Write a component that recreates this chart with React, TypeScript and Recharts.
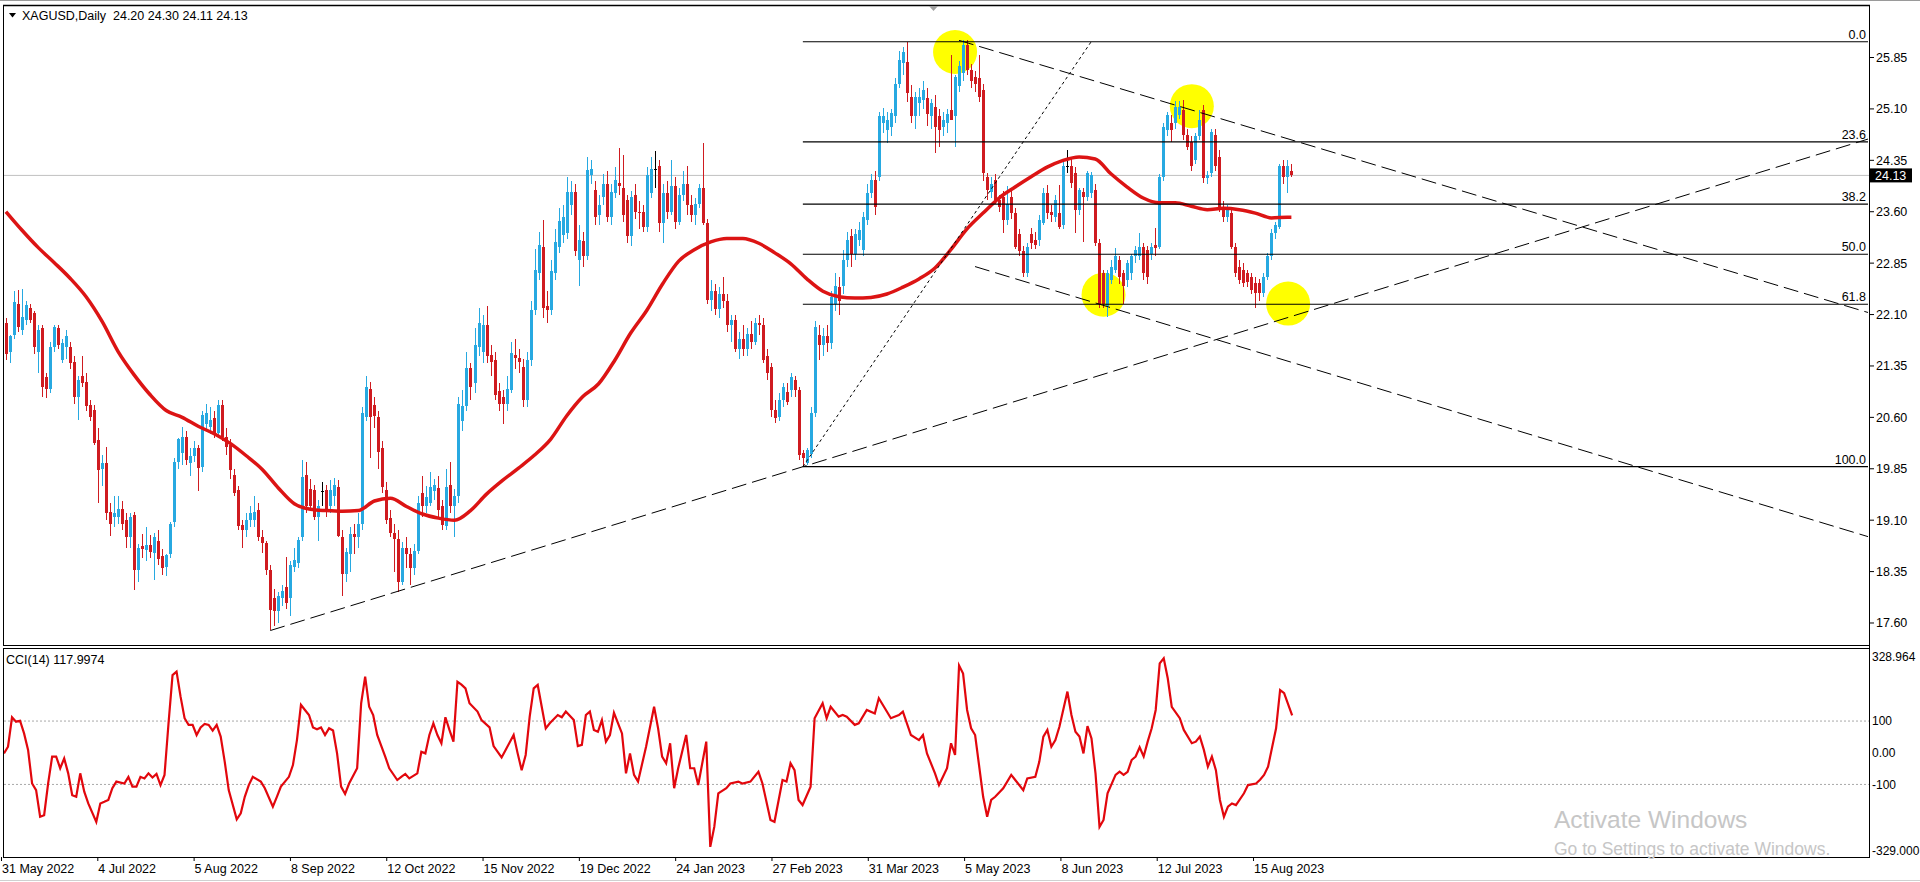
import React from 'react';
import { ComposedChart, Bar, Line, XAxis, YAxis, ReferenceLine, ReferenceDot } from 'recharts';

const FONT = "'Liberation Sans', Arial, sans-serif";
const BULL = '#27a9e1';
const BEAR = '#cf1b20';
const MA_COLOR = '#dc1414';
const CCI_COLOR = '#e2070d';
const TOTAL_BARS = 466;

// XAGUSD daily bars [open, high, low, close], bar 0 = 31 May 2022
const ohlc: number[][] = [
  [21.97, 22.05, 21.43, 21.52], [21.56, 21.80, 21.40, 21.78], [21.80, 22.45, 21.75, 22.28], [22.26, 22.46, 21.85, 21.92], [21.88, 22.48, 21.80, 22.07],
  [22.02, 22.30, 21.95, 22.24], [22.19, 22.25, 21.98, 22.02], [22.12, 22.15, 21.53, 21.63], [21.55, 21.95, 21.25, 21.88], [21.90, 21.95, 20.90, 21.05],
  [21.19, 21.25, 20.88, 21.02], [21.02, 21.70, 20.95, 21.63], [21.63, 21.95, 21.55, 21.92], [21.90, 21.95, 21.60, 21.66], [21.44, 21.75, 21.40, 21.68],
  [21.62, 21.88, 21.45, 21.78], [21.63, 21.70, 21.30, 21.39], [21.41, 21.50, 20.80, 20.90], [20.90, 21.20, 20.56, 21.15], [21.20, 21.49, 21.05, 21.10],
  [21.12, 21.25, 20.70, 20.76], [20.78, 20.85, 20.55, 20.61], [20.71, 20.78, 20.20, 20.22], [20.27, 20.45, 19.35, 19.83], [19.85, 20.05, 19.60, 19.93],
  [19.93, 20.17, 19.10, 19.20], [19.22, 19.35, 18.87, 19.05], [19.15, 19.45, 19.00, 19.20], [19.15, 19.46, 19.05, 19.27], [19.27, 19.38, 18.95, 19.05],
  [19.10, 19.20, 18.70, 18.86], [18.86, 19.20, 18.70, 19.15], [19.18, 19.22, 18.08, 18.37], [18.37, 18.75, 18.20, 18.69], [18.72, 18.90, 18.55, 18.68],
  [18.67, 19.00, 18.50, 18.74], [18.74, 18.88, 18.55, 18.64], [18.62, 18.92, 18.23, 18.86], [18.79, 18.95, 18.45, 18.54], [18.58, 18.68, 18.30, 18.40],
  [18.42, 18.60, 18.28, 18.59], [18.61, 19.08, 18.55, 19.05], [19.08, 20.00, 19.00, 19.95], [19.95, 20.30, 19.85, 20.29], [20.08, 20.46, 19.90, 20.32],
  [20.32, 20.40, 19.90, 19.98], [19.93, 20.15, 19.75, 20.03], [20.03, 20.25, 19.95, 20.15], [20.15, 20.20, 19.52, 19.86], [19.88, 20.70, 19.80, 20.63],
  [20.51, 20.80, 20.40, 20.66], [20.46, 20.75, 20.35, 20.56], [20.59, 20.70, 20.30, 20.37], [20.37, 20.85, 20.30, 20.78], [20.78, 20.86, 20.25, 20.32],
  [20.32, 20.45, 20.05, 20.17], [20.20, 20.28, 19.70, 19.83], [19.76, 19.85, 19.45, 19.49], [19.54, 19.60, 18.95, 19.01], [19.03, 19.10, 18.70, 18.96],
  [18.96, 19.20, 18.85, 19.10], [19.10, 19.30, 19.00, 19.20], [19.10, 19.45, 19.00, 19.22], [19.25, 19.35, 18.80, 18.86], [18.86, 18.95, 18.62, 18.76],
  [18.76, 18.80, 18.30, 18.37], [18.37, 18.45, 17.50, 17.79], [17.96, 18.10, 17.55, 17.77], [17.77, 18.05, 17.60, 17.99], [17.96, 18.15, 17.85, 18.07],
  [18.13, 18.57, 17.80, 17.89], [17.96, 18.50, 17.70, 18.45], [18.42, 18.70, 18.35, 18.52], [18.47, 18.85, 18.40, 18.81], [18.86, 19.98, 18.80, 19.73],
  [19.76, 19.95, 19.20, 19.30], [19.55, 19.70, 19.28, 19.30], [19.54, 19.62, 19.10, 19.15], [19.15, 19.40, 18.80, 19.30], [19.52, 19.65, 19.30, 19.52],
  [19.54, 19.62, 19.15, 19.22], [19.30, 19.68, 19.20, 19.54], [19.45, 19.72, 19.30, 19.61], [19.58, 19.68, 18.85, 18.87], [18.85, 18.95, 18.00, 18.32],
  [18.32, 18.70, 18.20, 18.64], [18.60, 19.00, 18.35, 18.90], [18.90, 19.05, 18.60, 18.85], [18.85, 19.20, 18.70, 19.05], [19.05, 20.75, 18.95, 20.66],
  [20.61, 21.20, 20.55, 21.05], [21.02, 21.12, 20.00, 20.61], [20.78, 20.90, 20.45, 20.62], [20.61, 20.70, 19.85, 20.10], [20.15, 20.25, 19.50, 19.59],
  [19.54, 19.65, 19.05, 19.10], [19.13, 19.25, 18.85, 18.91], [18.91, 19.05, 18.35, 18.82], [18.82, 18.95, 18.05, 18.20], [18.20, 18.78, 18.15, 18.70],
  [18.70, 18.85, 18.40, 18.60], [18.60, 18.70, 18.15, 18.40], [18.40, 18.75, 18.30, 18.65], [18.65, 19.45, 18.60, 19.35], [19.50, 19.75, 19.15, 19.30],
  [19.30, 19.60, 19.20, 19.44], [19.35, 19.80, 19.30, 19.59], [19.52, 19.70, 19.40, 19.61], [19.57, 19.75, 19.15, 19.25], [19.30, 19.40, 18.95, 19.03],
  [19.01, 19.85, 18.95, 19.59], [19.61, 19.95, 19.20, 19.30], [19.30, 19.55, 18.85, 19.45], [19.45, 20.90, 19.35, 20.80], [20.55, 21.00, 20.40, 20.76],
  [20.76, 21.55, 20.70, 21.32], [21.32, 21.40, 20.85, 21.05], [21.10, 21.90, 20.95, 21.66], [21.63, 22.20, 21.50, 21.97], [21.55, 22.10, 21.40, 21.95],
  [21.95, 22.23, 21.40, 21.49], [21.51, 21.65, 21.20, 21.41], [21.44, 21.55, 20.85, 20.93], [20.98, 21.10, 20.70, 20.80], [20.90, 21.00, 20.50, 20.80],
  [20.80, 21.20, 20.70, 21.02], [21.00, 21.70, 20.95, 21.54], [21.51, 21.75, 21.30, 21.47], [21.47, 21.60, 21.25, 21.41], [21.34, 21.45, 20.75, 20.85],
  [20.85, 21.55, 20.75, 21.44], [21.44, 22.30, 21.35, 22.17], [22.17, 23.05, 22.10, 22.75], [22.70, 23.30, 22.60, 23.11], [23.09, 23.48, 22.05, 22.19],
  [22.22, 22.45, 21.97, 22.17], [22.17, 22.90, 22.10, 22.73], [22.70, 23.35, 22.60, 23.16], [23.09, 23.65, 23.00, 23.46], [23.26, 23.70, 23.15, 23.53],
  [23.29, 24.11, 23.20, 23.89], [23.70, 24.05, 23.55, 23.89], [23.89, 24.00, 22.95, 23.02], [22.90, 23.40, 22.51, 23.19], [23.17, 23.30, 22.80, 22.95],
  [22.95, 24.40, 22.90, 24.21], [24.13, 24.36, 24.00, 24.23], [23.92, 24.05, 23.40, 23.53], [23.55, 23.85, 23.40, 23.70], [23.82, 24.15, 23.70, 24.01],
  [24.01, 24.20, 23.45, 23.53], [23.53, 24.00, 23.40, 23.89], [23.87, 24.25, 23.80, 24.06], [24.02, 24.53, 23.85, 23.97], [23.94, 24.43, 23.45, 23.55],
  [23.77, 23.85, 23.15, 23.24], [23.24, 23.90, 23.10, 23.82], [23.84, 24.00, 23.50, 23.60], [23.60, 23.75, 23.35, 23.58], [23.60, 23.70, 23.30, 23.38],
  [23.38, 24.25, 23.30, 24.14], [23.87, 24.40, 23.80, 24.23], [24.23, 24.48, 23.95, 24.23], [24.26, 24.35, 23.30, 23.43], [23.43, 24.00, 23.14, 23.87],
  [23.87, 24.05, 23.50, 23.60], [23.60, 24.36, 23.55, 23.97], [23.97, 24.10, 23.35, 23.45], [23.45, 23.95, 23.40, 23.85], [23.85, 24.20, 23.75, 24.00],
  [24.00, 24.26, 23.55, 23.70], [23.70, 23.85, 23.45, 23.55], [23.55, 23.80, 23.40, 23.72], [23.72, 24.00, 23.65, 23.94], [23.94, 24.60, 23.40, 23.43],
  [23.43, 23.50, 22.25, 22.31], [22.31, 22.60, 22.15, 22.45], [22.45, 22.55, 22.10, 22.18], [22.18, 22.50, 22.05, 22.40], [22.40, 22.65, 22.20, 22.30],
  [22.30, 22.40, 21.85, 21.95], [21.95, 22.10, 21.70, 22.02], [22.02, 22.10, 21.55, 21.60], [21.60, 21.85, 21.45, 21.75], [21.75, 21.95, 21.50, 21.60],
  [21.60, 21.90, 21.50, 21.82], [21.82, 22.00, 21.60, 21.70], [21.70, 22.05, 21.65, 21.98], [21.98, 22.10, 21.80, 21.95], [21.95, 22.05, 21.40, 21.44],
  [21.49, 21.60, 21.15, 21.24], [21.34, 21.40, 20.60, 20.71], [20.71, 20.85, 20.52, 20.59], [20.61, 20.95, 20.55, 20.85], [20.85, 21.10, 20.75, 21.05],
  [20.97, 21.10, 20.78, 20.83], [21.00, 21.25, 20.90, 21.19], [21.14, 21.20, 20.90, 21.00], [21.00, 21.05, 19.98, 20.05], [20.08, 20.12, 19.88, 20.00],
  [19.93, 20.15, 19.90, 20.12], [20.07, 20.75, 20.00, 20.66], [20.66, 22.00, 20.60, 21.92], [21.80, 21.95, 21.44, 21.66], [21.66, 21.90, 21.50, 21.78],
  [21.78, 21.95, 21.55, 21.68], [21.68, 22.45, 21.60, 22.36], [22.26, 22.70, 22.15, 22.51], [22.50, 22.65, 22.10, 22.30], [22.51, 23.04, 22.40, 22.90],
  [22.90, 23.30, 22.80, 23.19], [23.24, 23.35, 22.80, 22.99], [22.99, 23.35, 22.90, 23.28], [23.19, 23.45, 23.10, 23.33], [23.04, 23.60, 22.95, 23.53],
  [23.48, 24.00, 23.40, 23.87], [23.87, 24.15, 23.80, 24.06], [24.06, 24.20, 23.55, 23.67], [24.11, 25.05, 24.05, 24.99], [24.89, 25.11, 24.75, 24.99],
  [24.79, 25.05, 24.60, 24.94], [24.84, 25.10, 24.70, 25.04], [24.99, 25.55, 24.90, 25.47], [25.47, 25.95, 25.40, 25.81], [25.77, 26.00, 25.60, 25.93],
  [25.79, 26.08, 25.20, 25.33], [25.28, 25.45, 24.90, 24.99], [24.99, 25.35, 24.80, 25.28], [25.18, 25.40, 25.00, 25.28], [25.23, 25.50, 25.10, 25.38],
  [25.26, 25.40, 24.85, 25.03], [24.99, 25.25, 24.80, 25.18], [25.13, 25.30, 24.45, 24.84], [24.99, 25.10, 24.55, 24.79], [24.84, 25.05, 24.70, 24.94],
  [24.89, 25.10, 24.75, 25.03], [25.08, 25.89, 24.95, 24.94], [24.99, 25.60, 24.55, 25.57], [25.43, 25.80, 25.35, 25.72], [25.62, 26.10, 25.50, 26.03],
  [26.03, 26.10, 25.60, 25.67], [25.67, 25.75, 25.40, 25.50], [25.57, 25.65, 25.35, 25.47], [25.55, 25.89, 25.20, 25.28], [25.38, 25.47, 24.05, 24.16],
  [24.11, 24.16, 23.77, 23.92], [23.89, 24.10, 23.80, 24.01], [24.06, 24.15, 23.72, 23.77], [23.77, 23.85, 23.60, 23.67], [23.82, 23.90, 23.29, 23.48],
  [23.48, 23.97, 23.40, 23.72], [23.82, 23.90, 23.50, 23.58], [23.58, 23.65, 23.05, 23.09], [23.28, 23.35, 22.95, 23.02], [23.02, 23.10, 22.65, 22.70],
  [22.70, 23.15, 22.65, 23.09], [23.28, 23.36, 23.05, 23.14], [23.19, 23.30, 23.05, 23.12], [23.19, 23.55, 23.10, 23.48], [23.43, 23.95, 23.40, 23.87],
  [23.87, 23.99, 23.50, 23.58], [23.60, 23.70, 23.45, 23.55], [23.53, 23.85, 23.45, 23.77], [23.58, 23.99, 23.35, 23.38], [23.41, 24.35, 23.35, 24.26],
  [24.26, 24.50, 24.16, 24.26], [24.26, 24.40, 23.95, 24.02], [24.16, 24.25, 23.29, 23.63], [23.63, 23.95, 23.55, 23.92], [23.89, 23.95, 23.16, 23.82],
  [23.82, 24.20, 23.75, 24.16], [23.87, 24.18, 23.80, 24.14], [23.92, 24.00, 23.10, 23.14], [23.14, 23.20, 22.20, 22.26], [22.70, 22.75, 22.20, 22.26],
  [22.22, 22.75, 22.07, 22.70], [22.61, 22.90, 22.55, 22.80], [22.75, 23.07, 22.70, 22.95], [22.90, 22.95, 22.55, 22.65], [22.70, 22.75, 22.26, 22.51],
  [22.61, 22.90, 22.50, 22.85], [22.70, 22.98, 22.60, 22.95], [22.95, 23.10, 22.85, 23.04], [22.95, 23.29, 22.90, 23.09], [23.09, 23.15, 22.60, 22.70],
  [23.04, 23.10, 22.55, 22.65], [22.99, 23.15, 22.90, 23.09], [23.11, 23.36, 22.95, 23.07], [23.09, 24.15, 23.05, 24.11], [24.11, 24.90, 24.05, 24.84],
  [24.79, 25.05, 24.70, 25.01], [24.89, 25.01, 24.62, 24.79], [24.89, 25.21, 24.80, 25.13], [25.01, 25.21, 24.95, 25.13], [25.08, 25.23, 24.65, 24.72],
  [24.72, 24.80, 24.50, 24.55], [24.62, 24.70, 24.20, 24.26], [24.36, 24.75, 24.30, 24.70], [24.70, 25.08, 24.65, 24.94], [25.08, 25.15, 24.02, 24.09],
  [24.09, 24.20, 24.00, 24.14], [24.16, 24.80, 24.10, 24.77], [24.72, 24.80, 24.20, 24.26], [24.40, 24.50, 23.60, 23.63], [23.67, 23.75, 23.45, 23.53],
  [23.53, 23.70, 23.45, 23.65], [23.58, 23.65, 23.05, 23.09], [23.09, 23.15, 22.65, 22.70], [22.80, 22.90, 22.55, 22.61], [22.75, 22.85, 22.50, 22.56],
  [22.70, 22.75, 22.50, 22.58], [22.65, 22.70, 22.40, 22.46], [22.56, 22.65, 22.19, 22.41], [22.56, 22.62, 22.30, 22.41], [22.41, 22.70, 22.35, 22.65],
  [22.65, 23.00, 22.60, 22.95], [22.95, 23.35, 22.90, 23.29], [23.29, 23.45, 23.20, 23.41], [23.38, 24.30, 23.35, 24.26], [24.26, 24.36, 24.00, 24.11],
  [24.11, 24.36, 23.87, 24.26], [24.20, 24.30, 24.11, 24.13],
];

// moving average readings [bar, value]
const maPoints: number[][] = [
  [0, 23.60], [4, 23.33], [8, 23.08], [12, 22.86], [16, 22.63], [20, 22.36], [24, 22.00], [28, 21.56], [32, 21.22], [36, 20.93],
  [40, 20.70], [44, 20.60], [48, 20.47], [52, 20.36], [56, 20.22], [60, 20.04], [64, 19.84], [68, 19.57], [72, 19.34], [76, 19.26],
  [80, 19.24], [84, 19.23], [88, 19.24], [92, 19.38], [96, 19.42], [100, 19.30], [104, 19.19], [108, 19.13], [112, 19.10], [116, 19.24],
  [120, 19.48], [124, 19.68], [128, 19.86], [132, 20.05], [136, 20.28], [140, 20.62], [144, 20.90], [148, 21.09], [152, 21.43], [156, 21.83],
  [160, 22.16], [164, 22.55], [168, 22.88], [172, 23.05], [176, 23.16], [180, 23.21], [184, 23.21], [188, 23.14], [192, 23.00], [196, 22.84],
  [200, 22.62], [204, 22.44], [208, 22.36], [212, 22.34], [216, 22.35], [220, 22.40], [224, 22.50], [228, 22.62], [232, 22.78], [236, 23.05],
  [240, 23.35], [244, 23.58], [248, 23.80], [252, 23.96], [256, 24.11], [260, 24.25], [264, 24.35], [268, 24.40], [272, 24.37], [276, 24.15],
  [280, 23.96], [284, 23.80], [288, 23.73], [292, 23.73], [296, 23.68], [300, 23.63], [304, 23.65], [308, 23.63], [312, 23.58], [316, 23.51],
  [320, 23.52], [321, 23.52],
];

// CCI(14) readings [bar, value]
const cciPoints: number[][] = [
  [0, -2], [1, 19], [2, 112], [3, 98], [4, 101], [5, 61], [6, 9], [7, -97], [8, -118], [9, -202], [10, -197], [11, -97], [12, -12], [13, -12],
  [14, -49], [15, -18], [16, -65], [17, -134], [18, -139], [19, -65], [20, -123], [21, -160], [23, -218], [24, -160], [25, -155], [26, -149],
  [27, -112], [28, -91], [30, -97], [31, -76], [32, -107], [33, -107], [34, -76], [35, -81], [36, -65], [37, -78], [38, -67], [39, -102],
  [40, -70], [41, 93], [42, 245], [43, 256], [44, 177], [45, 109], [46, 88], [47, 88], [48, 56], [49, 80], [50, 91], [51, 88], [52, 70],
  [53, 88], [54, 51], [55, -28], [56, -118], [58, -210], [59, -191], [60, -139], [61, -102], [62, -76], [64, -91], [65, -112], [67, -170],
  [68, -139], [69, -107], [71, -76], [72, -39], [73, 40], [74, 151], [75, 135], [76, 119], [77, 80], [78, 74], [79, 80], [80, 56], [81, 77],
  [82, 70], [83, -2], [84, -107], [85, -130], [86, -97], [88, -49], [89, 156], [90, 240], [91, 145], [92, 119], [93, 56], [95, -12], [96, -49],
  [98, -86], [99, -76], [100, -67], [101, -81], [103, -65], [104, 3], [105, -2], [106, 56], [107, 93], [108, 56], [109, 30], [110, 112],
  [111, 72], [112, 35], [113, 224], [114, 215], [115, 203], [116, 156], [118, 130], [119, 103], [121, 80], [122, 21], [124, -15], [125, 9],
  [127, 56], [128, -2], [129, -55], [130, -7], [131, 114], [132, 203], [133, 214], [134, 145], [135, 77], [136, 93], [138, 119], [139, 112],
  [140, 130], [142, 103], [143, 21], [144, 25], [145, 119], [146, 130], [147, 72], [148, 66], [149, 103], [150, 35], [151, 56], [152, 126],
  [154, 61], [155, -65], [156, -2], [157, -70], [158, -91], [160, 19], [162, 145], [163, 77], [164, -12], [165, -33], [166, 30], [167, -112],
  [168, -49], [170, 56], [171, -49], [172, -49], [173, -102], [175, 35], [176, -297], [177, -234], [178, -128], [180, -112], [181, -97],
  [183, -91], [184, -97], [186, -91], [188, -60], [189, -97], [191, -212], [192, -218], [194, -86], [195, -91], [196, -33], [197, -55],
  [198, -149], [199, -165], [201, -107], [202, 109], [204, 156], [205, 109], [206, 145], [208, 114], [209, 119], [210, 114], [212, 88],
  [213, 93], [215, 135], [217, 124], [218, 172], [220, 130], [221, 109], [223, 119], [224, 130], [226, 56], [228, 40], [229, 56], [230, -2],
  [232, -65], [233, -102], [235, -49], [236, 30], [237, -7], [238, 275], [239, 250], [240, 135], [241, 77], [242, 56], [244, -139], [245, -202],
  [246, -149], [247, -139], [249, -112], [251, -70], [252, -86], [254, -118], [255, -81], [257, -76], [258, -28], [259, 51], [260, 72],
  [261, 19], [262, 40], [263, 82], [265, 193], [266, 119], [267, 66], [268, 51], [269, -2], [270, 84], [271, 45], [272, -65], [273, -234],
  [274, -212], [275, -128], [277, -70], [278, -60], [279, -70], [280, -60], [281, -23], [282, -12], [283, 17], [284, -12], [285, 35],
  [286, 77], [287, 135], [288, 282], [289, 298], [290, 235], [291, 145], [293, 109], [294, 72], [296, 30], [297, 35], [298, 51], [299, 9],
  [300, -44], [301, -12], [302, -55], [303, -149], [304, -202], [305, -170], [306, -160], [307, -165], [309, -128], [310, -102], [312, -97],
  [313, -85], [314, -70], [315, -44], [317, 77], [318, 198], [319, 188], [321, 118],
];

const dateTickBars = [0, 24, 48, 72, 96, 120, 144, 168, 192, 216, 240, 264, 288, 312];
const dateTickLabels = ['31 May 2022', '4 Jul 2022', '5 Aug 2022', '8 Sep 2022', '12 Oct 2022', '15 Nov 2022', '19 Dec 2022',
  '24 Jan 2023', '27 Feb 2023', '31 Mar 2023', '5 May 2023', '8 Jun 2023', '12 Jul 2023', '15 Aug 2023'];
const priceTicks = [17.6, 18.35, 19.1, 19.85, 20.6, 21.35, 22.1, 22.85, 23.6, 24.35, 25.1, 25.85];
const priceDomain = [17.279, 26.616];
const cciTicks = [328.964, 100, 0, -100, -329];
const cciTickLabels = ['328.964', '100', '0.00', '-100', '-329.000'];
const cciDomain = [-329, 328.964];
const cciLevels = [100, -100];
const fibLevels = [26.08, 24.62, 23.71, 22.98, 22.25, 19.88];
const fibLabels = ['0.0', '23.6', '38.2', '50.0', '61.8', '100.0'];
const fibSpan = [199, 465];
const trendAnchors = [
  [66, 17.49, 465, 24.66],
  [238, 26.10, 465, 22.13],
  [242, 22.80, 465, 18.86],
];
const fibTrend = [199, 19.88, 271, 26.08];
const highlights = [[237, 25.93], [296, 25.14], [274, 22.39], [320, 22.26]];
const lastBar = { open: 24.20, high: 24.30, low: 24.11, close: 24.13 };
const cciLast = 117.9974;

const maMap = new Map(maPoints.map(([b, v]) => [b, v]));
const cciMap = new Map(cciPoints.map(([b, v]) => [b, v]));
const rows = Array.from({ length: TOTAL_BARS }, (_, i) => {
  const k = ohlc[i];
  return {
    i,
    o: k ? k[0] : null,
    h: k ? k[1] : null,
    l: k ? k[2] : null,
    c: k ? k[3] : null,
    range: k ? [k[2], k[1]] : undefined,
    ma: maMap.has(i) ? maMap.get(i) : null,
    cci: cciMap.has(i) ? cciMap.get(i) : null,
  };
});

function Candle(props: any) {
  const { x, y, width, height, payload } = props;
  if (!payload || payload.o == null || x == null || y == null) return <g />;
  const { o, h, l, c } = payload;
  const top = Math.min(y, y + height);
  const hgt = Math.abs(height);
  const py = (p: number) => (h === l ? top : top + ((h - p) / (h - l)) * hgt);
  const cx = x + width / 2;
  const left = Math.round(cx - 1.5);
  const color = c > o ? BULL : c < o ? BEAR : '#000';
  const bTop = py(Math.max(o, c));
  const bBot = py(Math.min(o, c));
  return (
    <g shapeRendering="crispEdges">
      <rect x={left + 1} y={top} width={1} height={Math.max(1, hgt)} fill={color} />
      <rect x={left} y={bTop} width={3} height={Math.max(1, bBot - bTop)} fill={color} />
    </g>
  );
}

const fibLabel = (text: string) => (props: any) => {
  const vb = props && props.viewBox;
  if (!vb) return null;
  return (
    <text x={vb.x + vb.width - 2} y={vb.y - 3} textAnchor="end" fontSize={12.5} fontFamily={FONT} fill="#000">{text}</text>
  );
};

const priceBox = (props: any) => {
  const vb = props && props.viewBox;
  if (!vb) return null;
  const x = vb.x + vb.width;
  return (
    <g>
      <rect x={x} y={vb.y - 7} width={42} height={14} fill="#000" />
      <text x={x + 5} y={vb.y + 4.5} fill="#fff" fontSize={12.5} fontFamily={FONT}>{lastBar.close.toFixed(2)}</text>
    </g>
  );
};

const DateTick = (props: any) => {
  const { x, y, payload } = props;
  const idx = dateTickBars.indexOf(payload.value);
  if (idx < 0) return null;
  return (
    <g>
      <line x1={x - 2.5} x2={x - 2.5} y1={y} y2={y + 4} stroke="#000" />
      <text x={x - 2} y={y + 15.8} fontSize={12.5} fontFamily={FONT} fill="#000">{dateTickLabels[idx]}</text>
    </g>
  );
};

const CciTick = (props: any) => {
  const { x, y, payload } = props;
  const idx = cciTicks.indexOf(payload.value);
  if (idx < 0) return null;
  const shift = idx === 0 ? 8 : idx === cciTicks.length - 1 ? -6.5 : 0;
  return (
    <text x={x - 1} y={y + shift + 4.4} fontSize={12} fontFamily={FONT} fill="#000">{cciTickLabels[idx]}</text>
  );
};

const mainMargin = { top: 5, right: 0, bottom: 3, left: 4 };

export default function App() {
  return (
    <div style={{ position: 'absolute', left: 0, top: 0, width: 1920, height: 882, background: '#fff', overflow: 'hidden' }}>
      {/* background layer: highlight ellipses drawn behind the candles */}
      <div style={{ position: 'absolute', left: 0, top: 0 }}>
        <ComposedChart width={1920} height={648} data={rows} margin={mainMargin}>
          <XAxis dataKey="i" type="category" hide />
          <YAxis orientation="right" width={50} domain={priceDomain} allowDataOverflow ticks={priceTicks} tick={false} tickLine={false} axisLine={false} />
          {highlights.map(([b, p], k) => (
            <ReferenceDot key={'hl' + k} x={b} y={p} r={22} fill="#ffff00" stroke="none" />
          ))}
          <ReferenceLine y={lastBar.close} stroke="#c0c0c0" />
        </ComposedChart>
      </div>

      <div style={{ position: 'absolute', left: 0, top: 0 }}>
        <ComposedChart width={1920} height={648} data={rows} margin={mainMargin}>
          <XAxis dataKey="i" type="category" hide />
          <YAxis
            orientation="right"
            width={50}
            domain={priceDomain}
            allowDataOverflow
            ticks={priceTicks}
            interval={0}
            tickSize={4}
            tickMargin={2}
            axisLine={false}
            tickLine={{ stroke: '#000' }}
            tick={{ fill: '#000', fontSize: 12.5, fontFamily: FONT }}
            tickFormatter={(v: number) => v.toFixed(2)}
          />
          <ReferenceLine y={lastBar.close} stroke="none" label={priceBox} />
          <Bar dataKey={(d: any) => d.range} barSize={3} shape={Candle} isAnimationActive={false} />
          <Line dataKey="ma" type="monotone" stroke={MA_COLOR} strokeWidth={3.5} dot={false} activeDot={false} connectNulls isAnimationActive={false} />
          {fibLevels.map((lv, k) => (
            <ReferenceLine
              key={'fib' + k}
              segment={[{ x: fibSpan[0], y: lv }, { x: fibSpan[1], y: lv }]}
              stroke="#000"
              strokeWidth={1.2}
              label={fibLabel(fibLabels[k])}
            />
          ))}
          {trendAnchors.map(([b1, p1, b2, p2], k) => (
            <ReferenceLine
              key={'tl' + k}
              segment={[{ x: b1, y: p1 }, { x: b2, y: p2 }]}
              stroke="#000"
              strokeWidth={1}
              strokeDasharray="15 6"
            />
          ))}
          <ReferenceLine
            segment={[{ x: fibTrend[0], y: fibTrend[1] }, { x: fibTrend[2], y: fibTrend[3] }]}
            stroke="#000"
            strokeWidth={1}
            strokeDasharray="3 3"
          />
        </ComposedChart>
      </div>

      <div style={{ position: 'absolute', left: 0, top: 645 }}>
        <ComposedChart width={1920} height={237} data={rows} margin={{ top: 3.5, right: 0, bottom: 0, left: 4 }}>
          <XAxis
            dataKey="i"
            type="category"
            height={25}
            ticks={dateTickBars}
            interval={0}
            tickSize={0}
            tickMargin={0}
            axisLine={false}
            tickLine={false}
            tick={DateTick}
          />
          <YAxis
            orientation="right"
            width={50}
            domain={cciDomain}
            allowDataOverflow
            ticks={cciTicks}
            interval={0}
            tickSize={0}
            tickMargin={3}
            axisLine={false}
            tickLine={false}
            tick={CciTick}
          />
          {cciLevels.map((lv) => (
            <ReferenceLine key={'cl' + lv} y={lv} stroke="#a8a8a8" strokeDasharray="2 2" />
          ))}
          <Line dataKey="cci" type="linear" stroke={CCI_COLOR} strokeWidth={2.2} dot={false} activeDot={false} connectNulls isAnimationActive={false} />
        </ComposedChart>
      </div>

      <svg width={1920} height={882} style={{ position: 'absolute', left: 0, top: 0, pointerEvents: 'none' }}>
        <line x1={0} x2={1920} y1={0.5} y2={0.5} stroke="#9a9a9a" />
        <line x1={3} x2={1870} y1={5.5} y2={5.5} stroke="#000" strokeWidth={1.5} />
        <line x1={3.5} x2={3.5} y1={5} y2={645.5} stroke="#000" />
        <line x1={3} x2={1870} y1={645.5} y2={645.5} stroke="#000" />
        <line x1={3} x2={1870} y1={648.5} y2={648.5} stroke="#000" />
        <line x1={3.5} x2={3.5} y1={648} y2={857.5} stroke="#000" />
        <line x1={3} x2={1870} y1={857.5} y2={857.5} stroke="#000" />
        <line x1={1869.5} x2={1869.5} y1={5} y2={858} stroke="#000" />
        <line x1={0} x2={1920} y1={880.5} y2={880.5} stroke="#d0d0d0" />
        <polygon points="929,6 938,6 933.5,11" fill="#a0a0a0" />
        <polygon points="9,13 16,13 12.5,17.5" fill="#000" />
        <text x={22} y={19.5} fontSize={12.5} fontFamily={FONT} fill="#000" style={{ whiteSpace: 'pre' }}>
          {`XAGUSD,Daily  ${lastBar.open.toFixed(2)} ${lastBar.high.toFixed(2)} ${lastBar.low.toFixed(2)} ${lastBar.close.toFixed(2)}`}
        </text>
        <text x={6} y={663.5} fontSize={12.5} fontFamily={FONT} fill="#000">{`CCI(14) ${cciLast.toFixed(4)}`}</text>
        <text x={1554} y={828} fontSize={24.5} fontFamily={FONT} fill="#c6c6c6">Activate Windows</text>
        <text x={1554} y={855} fontSize={17.5} fontFamily={FONT} fill="#c6c6c6">Go to Settings to activate Windows.</text>
      </svg>
    </div>
  );
}
